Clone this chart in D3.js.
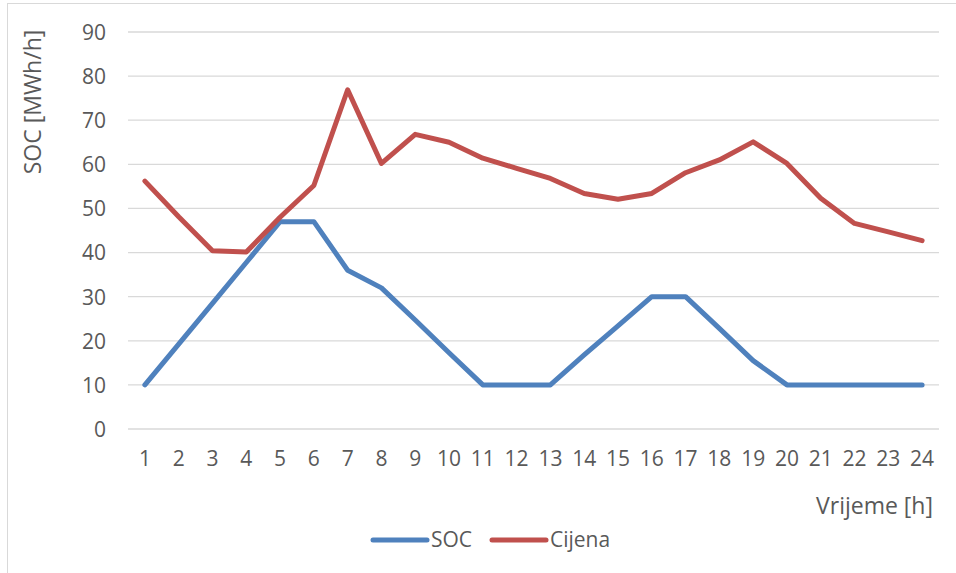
<!DOCTYPE html>
<html><head><meta charset="utf-8">
<script src="https://cdn.jsdelivr.net/npm/d3@7"></script>
<style>body{margin:0;background:#fff}svg{display:block}text{font-family:"Open Sans",sans-serif;fill:#595959}</style>
</head><body><svg id="c" width="956" height="573"></svg>
<script>
const hours = d3.range(1, 25).map(String);
const soc = [10,19.25,28.5,37.75,47,47,36,32,24.7,17.3,10,10,10,16.8,23.4,30,30,22.8,15.5,10,10,10,10,10];
const cijena = [56.2,48.1,40.4,40.1,48,55.2,76.9,60.2,66.8,65.0,61.4,59.1,56.8,53.4,52.1,53.4,58.1,61.0,65.1,60.2,52.3,46.6,44.7,42.7];
const yTicks = [0,10,20,30,40,50,60,70,80,90];
const seriesNames = ["SOC","Cijena"];
const colors = ["#4F81BD","#C0504D"];
const yTitle = "SOC [MWh/h]";
const xTitle = "Vrijeme [h]";

const svg = d3.select("#c");
svg.append("rect").attr("x",7.5).attr("y",3.5).attr("width",960).attr("height",580)
  .attr("fill","none").attr("stroke","#d9d9d9").attr("stroke-width",1);

const x = d3.scaleBand().domain(hours).range([128,939]);
const y = d3.scaleLinear().domain([0,90]).range([429,32]);

const g = svg.append("g");
g.selectAll("line.grid").data(yTicks).join("line").attr("class","grid")
  .attr("x1",128).attr("x2",939).attr("y1",d=>y(d)).attr("y2",d=>y(d))
  .attr("stroke","#d9d9d9").attr("stroke-width",1.3);

const yAxis = g.append("g").attr("transform","translate(112,0)")
  .call(d3.axisLeft(y).tickValues(yTicks).tickSize(0).tickPadding(0));
yAxis.select(".domain").remove();
yAxis.selectAll("text").style("font-size","21px").attr("fill","#595959").attr("x",-6).attr("dy","0.35em");

const xAxis = g.append("g").attr("transform","translate(0,451)")
  .call(d3.axisBottom(x).tickSize(0).tickPadding(0));
xAxis.select(".domain").remove();
xAxis.selectAll("text").style("font-size","21px").attr("fill","#595959").attr("dy","0.71em");

const line = d3.line().x((d,i)=>x(hours[i])+x.bandwidth()/2).y(d=>y(d));
[soc,cijena].forEach((s,k)=>{
  g.append("path").datum(s).attr("d",line).attr("fill","none")
   .attr("stroke",colors[k]).attr("stroke-width",5).attr("stroke-linejoin","round").attr("stroke-linecap","round");
});

svg.append("text").attr("transform","translate(41,102) rotate(-90)").attr("text-anchor","middle")
  .style("font-size","23px").text(yTitle);
svg.append("text").attr("x",933).attr("y",514).attr("text-anchor","end")
  .style("font-size","23px").text(xTitle);

const legX = [373, 492];
seriesNames.forEach((n,k)=>{
  const lg = svg.append("g");
  lg.append("line").attr("x1",legX[k]).attr("x2",legX[k]+54).attr("y1",540).attr("y2",540)
    .attr("stroke",colors[k]).attr("stroke-width",5).attr("stroke-linecap","round");
  lg.append("text").attr("x",legX[k]+58).attr("y",540).attr("dy","0.35em").style("font-size","21px").text(n);
});
</script></body></html>
